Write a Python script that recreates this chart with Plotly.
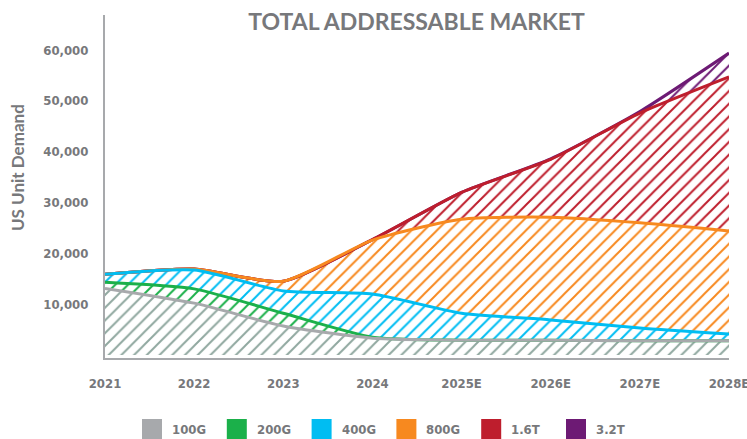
import plotly.graph_objects as go

years = ["2021", "2022", "2023", "2024", "2025E", "2026E", "2027E", "2028E"]
series_names = ["100G", "200G", "400G", "800G", "1.6T", "3.2T"]
v100g = [13100, 10200, 5700, 3300, 2900, 2900, 2800, 2800]
v200g = [1200, 2800, 2500, 200, 0, 0, 0, 0]
v400g = [1600, 3700, 4400, 8500, 5300, 4000, 2500, 1300]
v800g = [0, 200, 1900, 10600, 18500, 20200, 20700, 20300]
v1_6t = [0, 0, 0, 100, 5300, 11400, 21600, 30300]
v3_2t = [0, 0, 0, 0, 0, 100, 300, 4700]
tick_vals = [10000, 20000, 30000, 40000, 50000, 60000]
tick_text = ["10,000", "20,000", "30,000", "40,000", "50,000", "60,000"]

values = [v100g, v200g, v400g, v800g, v1_6t, v3_2t]
line_colors = ["#a7a9ac", "#1bb04a", "#00bdf2", "#f7891f", "#be1e2d", "#6d1a74"]
hatch_colors = ["#90a8a0", "#1bb04a", "#00bdf2", "#f7891f", "#be1e2d", "#6d1a74"]

TXT = "#77787b"
COND = "DejaVu Sans Condensed, sans-serif"

# cumulative tops of the stacked areas
tops = []
run = [0] * len(years)
for vals in values:
    run = [a + b for a, b in zip(run, vals)]
    tops.append(run)

fig = go.Figure()
# hatched areas (bottom to top)
for i, (name, top, hc) in enumerate(zip(series_names, tops, hatch_colors)):
    fig.add_trace(go.Scatter(
        x=years, y=top, name=name, mode="lines",
        line=dict(width=0, shape="spline", smoothing=0.6),
        fill="tozeroy" if i == 0 else "tonexty",
        fillcolor="rgba(0,0,0,0)",
        fillpattern=dict(shape="/", fgcolor=hc, bgcolor="rgba(0,0,0,0)",
                         fgopacity=1, size=9, solidity=0.22),
        showlegend=False, hoverinfo="skip",
    ))
# outlines (top to bottom so lower series stay visible where they coincide)
for name, top, lc in reversed(list(zip(series_names, tops, line_colors))):
    fig.add_trace(go.Scatter(
        x=years, y=top, name=name, mode="lines",
        line=dict(color=lc, width=3, shape="spline", smoothing=0.6),
        showlegend=False,
    ))

# plot area in paper terms: x 105..729 px, y 15..358 px
def px_x(p):
    return (p - 105) / 624

def px_y(p):
    return (358 - p) / 343

# legend swatches and labels below the chart
shapes = []
annotations = []
for i, (name, lc) in enumerate(zip(series_names, line_colors)):
    shapes.append(dict(type="rect", xref="paper", yref="paper",
                       x0=px_x(142 + 84.8 * i), x1=px_x(162 + 84.8 * i),
                       y0=px_y(419), y1=px_y(439),
                       fillcolor=lc, line=dict(width=0)))
    annotations.append(dict(text="<b>" + name + "</b>", xref="paper", yref="paper",
                            x=px_x(170 + 84.8 * i), y=px_y(429.5),
                            xanchor="left", yanchor="middle", showarrow=False,
                            font=dict(family=COND, size=13, color=TXT)))
annotations.append(dict(text="<b>US Unit Demand</b>", xref="paper", yref="paper",
                        x=px_x(18), y=px_y(168), textangle=-90,
                        xanchor="center", yanchor="middle", showarrow=False,
                        font=dict(family="Lato, sans-serif", size=17, color=TXT)))

fig.update_layout(
    width=747, height=439,
    margin=dict(l=105, r=18, t=15, b=81),
    plot_bgcolor="white", paper_bgcolor="white",
    showlegend=False,
    title=dict(text="<b>TOTAL ADDRESSABLE MARKET</b>", x=416.5 / 747, xanchor="center",
               y=1 - 22 / 439, yanchor="middle",
               font=dict(family="Lato, sans-serif", size=23, color=TXT)),
    xaxis=dict(
        type="category", range=[0, 7], showgrid=False, zeroline=False,
        showline=True, linecolor="#a7a9ac", linewidth=2,
        ticks="", ticklabelstandoff=12, automargin=False,
        tickfont=dict(family=COND, size=13, color=TXT, weight="bold"),
    ),
    yaxis=dict(
        range=[-600, 66900], showgrid=False, zeroline=False,
        showline=True, linecolor="#a7a9ac", linewidth=2,
        tickvals=tick_vals, ticktext=tick_text, ticks="", ticklabelstandoff=12,
        automargin=False,
        tickfont=dict(family=COND, size=13, color=TXT, weight="bold"),
    ),
    shapes=shapes,
    annotations=annotations,
)

# remove the default page margin so the 747x439 figure fills the window exactly
fig.write_html(
    "out.html",
    config={"displayModeBar": False},
    post_script="document.body.style.margin='0';document.body.style.overflow='hidden';",
)
